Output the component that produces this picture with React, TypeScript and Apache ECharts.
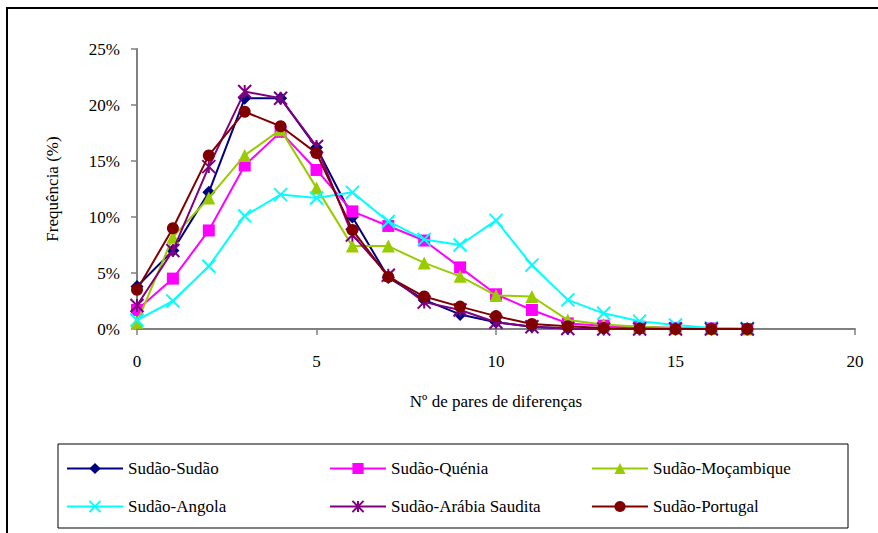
import React, { useEffect, useRef } from "react";
import * as echarts from "echarts";

const xValues = [0, 1, 2, 3, 4, 5, 6, 7, 8, 9, 10, 11, 12, 13, 14, 15, 16, 17];
const sudaoSudao = [3.8, 7.0, 12.2, 20.6, 20.6, 16.2, 10.0, 4.6, 2.6, 1.3, 0.6, 0.2, 0.05, 0, 0, 0, 0, 0];
const sudaoQuenia = [1.7, 4.5, 8.8, 14.6, 17.6, 14.2, 10.5, 9.2, 7.9, 5.5, 3.1, 1.7, 0.5, 0.3, 0.2, 0.1, 0.05, 0];
const sudaoMocambique = [0.6, 8.2, 11.7, 15.5, 17.8, 12.6, 7.4, 7.4, 5.9, 4.7, 3.0, 2.9, 0.8, 0.4, 0.2, 0.1, 0.05, 0];
const sudaoAngola = [0.8, 2.5, 5.6, 10.1, 12.0, 11.7, 12.2, 9.6, 8.0, 7.5, 9.7, 5.7, 2.6, 1.4, 0.7, 0.35, 0.1, 0.05];
const sudaoArabia = [2.1, 7.0, 14.5, 21.2, 20.6, 16.3, 8.4, 4.8, 2.4, 1.7, 0.6, 0.2, 0.05, 0, 0, 0, 0, 0];
const sudaoPortugal = [3.5, 9.0, 15.5, 19.4, 18.1, 15.7, 8.85, 4.65, 2.9, 2.0, 1.15, 0.45, 0.25, 0.1, 0.05, 0, 0, 0];

const seriesNames = [
  "Sudão-Sudão",
  "Sudão-Quénia",
  "Sudão-Moçambique",
  "Sudão-Angola",
  "Sudão-Arábia Saudita",
  "Sudão-Portugal",
];
const yTicks = { min: 0, max: 25, interval: 5 };
const xTicks = { min: 0, max: 20, interval: 5 };

const FONT = "Liberation Serif";

export default function App() {
  const ref = useRef<HTMLDivElement>(null);
  useEffect(() => {
    document.body.style.margin = "0";
    if (!ref.current) return;
    const chart = echarts.init(ref.current, null, { renderer: "svg" });
    const pair = (arr: number[]) => xValues.map((x, i) => [x, arr[i]]);
    const cross = "path://M0,0L10,10M10,0L0,10";
    const star = "path://M0,0L10,10M10,0L0,10M5,0L5,10";
    const defs = [
      { data: sudaoSudao, color: "#000080", symbol: "diamond", size: 13, stroke: false },
      { data: sudaoQuenia, color: "#FF00FF", symbol: "rect", size: 12, stroke: false },
      { data: sudaoMocambique, color: "#99CC00", symbol: "triangle", size: 13, stroke: false },
      { data: sudaoAngola, color: "#00FFFF", symbol: cross, size: 13, stroke: true },
      { data: sudaoArabia, color: "#800080", symbol: star, size: 13, stroke: true },
      { data: sudaoPortugal, color: "#800000", symbol: "circle", size: 12, stroke: false },
    ];
    const series = defs.map((d, i) => ({
      name: seriesNames[i],
      type: "line",
      data: pair(d.data),
      symbol: d.symbol,
      symbolSize: d.size,
      showAllSymbol: true,
      lineStyle: { color: d.color, width: 2 },
      itemStyle: d.stroke
        ? { color: d.color, borderColor: d.color, borderWidth: 2 }
        : { color: d.color, borderWidth: 0 },
      emphasis: { disabled: true },
      z: 2 + i,
    }));
    const legendText = { fontFamily: FONT, fontSize: 17, color: "#000" };
    const mkLegend = (names: string[], left: number) => ({
      show: true,
      orient: "vertical",
      left,
      top: 460,
      itemWidth: 56,
      itemHeight: 14,
      itemGap: 21,
      padding: 0,
      data: names,
      textStyle: legendText,
      selectedMode: false,
    });
    chart.setOption({
      animation: false,
      backgroundColor: "#fff",
      textStyle: { fontFamily: FONT },
      grid: { left: 137, top: 49, right: 23, bottom: 204, containLabel: false },
      xAxis: {
        type: "value",
        min: xTicks.min,
        max: xTicks.max,
        interval: xTicks.interval,
        name: "Nº de pares de diferenças",
        nameLocation: "middle",
        nameGap: 64,
        nameTextStyle: { fontFamily: FONT, fontSize: 17, color: "#000" },
        axisLine: { lineStyle: { color: "#808080", width: 2 } },
        axisTick: { show: true, inside: false, length: 6, lineStyle: { color: "#808080", width: 1.5 } },
        axisLabel: { fontFamily: FONT, fontSize: 17, color: "#000", margin: 24 },
        splitLine: { show: false },
      },
      yAxis: {
        type: "value",
        min: yTicks.min,
        max: yTicks.max,
        interval: yTicks.interval,
        name: "Frequência (%)",
        nameLocation: "middle",
        nameGap: 76,
        nameTextStyle: { fontFamily: FONT, fontSize: 17, color: "#000" },
        axisLine: { show: true, lineStyle: { color: "#808080", width: 2 } },
        axisTick: { show: true, inside: false, length: 6, lineStyle: { color: "#808080", width: 1.5 } },
        axisLabel: { fontFamily: FONT, fontSize: 17, color: "#000", margin: 17, formatter: "{value}%" },
        splitLine: { show: false },
      },
      legend: [
        mkLegend([seriesNames[0], seriesNames[3]], 66),
        mkLegend([seriesNames[1], seriesNames[4]], 329),
        mkLegend([seriesNames[2], seriesNames[5]], 591),
      ],
      graphic: [
        {
          type: "rect",
          shape: { x: 7, y: 8, width: 900, height: 600 },
          style: { fill: "none", stroke: "#000", lineWidth: 2 },
          silent: true,
          z: -1,
        },
        {
          type: "rect",
          shape: { x: 58, y: 444, width: 790, height: 84 },
          style: { fill: "none", stroke: "#000", lineWidth: 1 },
          silent: true,
        },
      ],
      series,
    });
    return () => chart.dispose();
  }, []);
  return <div ref={ref} style={{ width: 878, height: 533 }} />;
}
